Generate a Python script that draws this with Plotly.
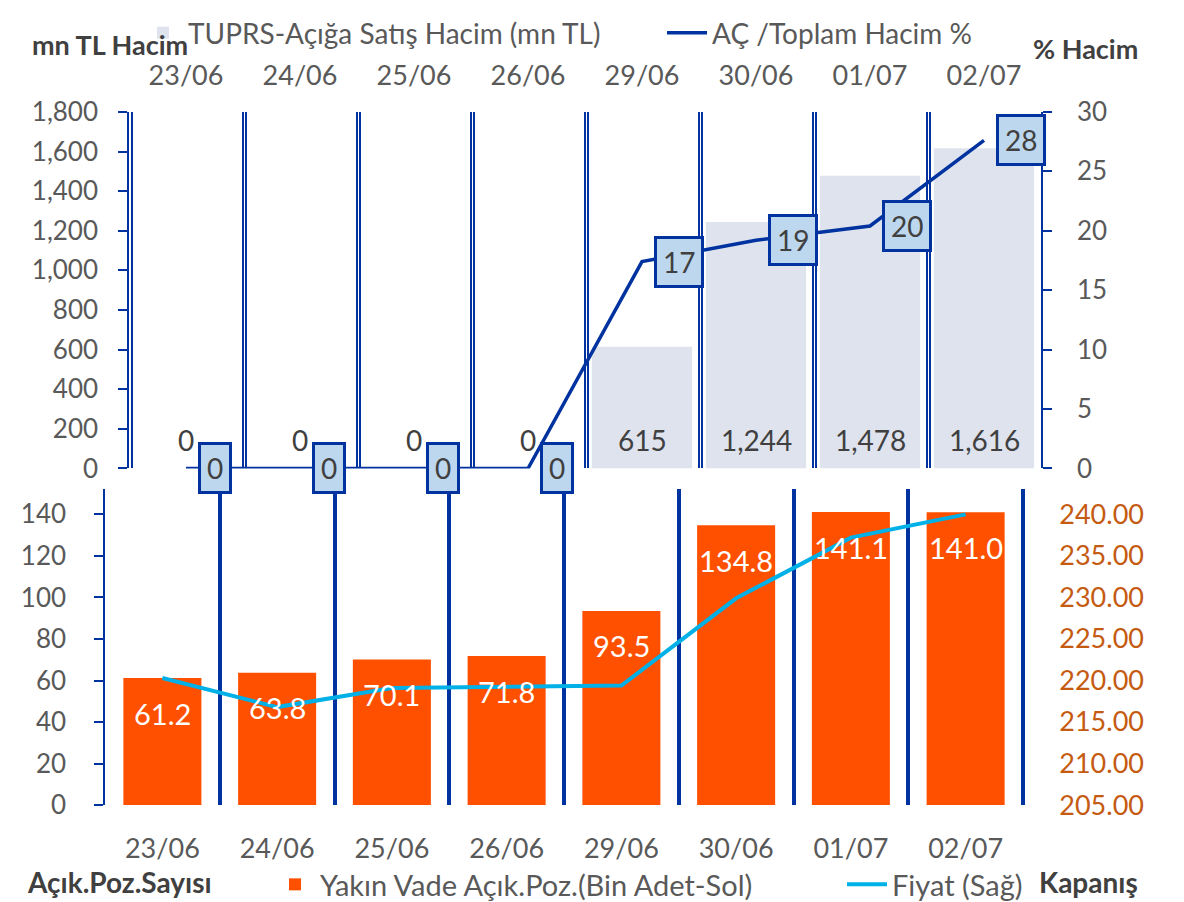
import plotly.graph_objects as go

# ---------------- data ----------------
dates = ["23/06", "24/06", "25/06", "26/06", "29/06", "30/06", "01/07", "02/07"]
short_volume = [0, 0, 0, 0, 615, 1244, 1478, 1616]          # mn TL
short_pct = [0, 0, 0, 0, 17.4, 19.2, 20.4, 27.6]             # AÇ / Toplam Hacim %
open_pos = [61.2, 63.8, 70.1, 71.8, 93.5, 134.8, 141.1, 141.0]  # Bin adet
price = [220.3, 216.8, 219.1, 219.2, 219.4, 229.9, 237.2, 240.0]

FONT = "Lato"
GRAY = "#595959"
DARK = "#404040"
BLUE = "#0033A0"
W, H = 1184, 902
OFF = 8  # default page body margin


def px_x(p):
    return (p - OFF) / W


def px_y(p):
    return 1 - (p - OFF) / H


fig = go.Figure()

# top chart: bars (left axis) + pct line (right axis)
fig.add_trace(go.Bar(
    x=dates, y=short_volume, xaxis="x", yaxis="y",
    name="TUPRS-Açığa Satış Hacim (mn TL)",
    marker=dict(color="#DEE3EE", line=dict(width=0)),
    width=0.88, legend="legend", hoverinfo="skip",
))
fig.add_trace(go.Scatter(
    x=dates, y=short_pct, xaxis="x", yaxis="y3",
    name="AÇ /Toplam Hacim %", mode="lines",
    line=dict(color=BLUE, width=3.5), legend="legend2", hoverinfo="skip",
))
# invisible helper trace for the second (double) gridline
fig.add_trace(go.Scatter(
    x=dates, y=[None] * len(dates), xaxis="x3", yaxis="y",
    showlegend=False, hoverinfo="skip",
))

# bottom chart
fig.add_trace(go.Bar(
    x=dates, y=open_pos, xaxis="x2", yaxis="y2",
    name="Yakın Vade Açık.Poz.(Bin Adet-Sol)",
    marker=dict(color="#FF5000", line=dict(width=0)),
    width=0.68, legend="legend3", hoverinfo="skip",
))
fig.add_trace(go.Scatter(
    x=dates, y=price, xaxis="x2", yaxis="y4",
    name="Fiyat (Sağ)", mode="lines",
    line=dict(color="#00B0E6", width=4), legend="legend4", hoverinfo="skip",
))

annotations = []
# bar value labels (top)
for d, v in zip(dates, short_volume):
    annotations.append(dict(
        x=d, y=0, xref="x", yref="y", text=f"{v:,.0f}", showarrow=False,
        yshift=28, yanchor="middle", font=dict(family=FONT, size=28, color=DARK),
    ))
# pct line labels (boxed)
for d, v in zip(dates, short_pct):
    annotations.append(dict(
        x=d, y=v, xref="x", yref="y3", text=f"{v:.0f}", showarrow=False,
        xanchor="left", xshift=12, yanchor="middle",
        bgcolor="#BDD7EE", bordercolor=BLUE, borderwidth=3, borderpad=6,
        font=dict(family=FONT, size=28, color=DARK),
    ))
# bottom bar labels
for d, v in zip(dates, open_pos):
    annotations.append(dict(
        x=d, y=v, xref="x2", yref="y2", text=f"{v:.1f}", showarrow=False,
        yshift=-35, yanchor="middle", font=dict(family=FONT, size=29, color="white"),
    ))
# titles
titles = [
    ("mn TL Hacim", 30, 45, "left", 27),
    ("% Hacim", 1140, 49, "right", 27),
    ("Açık.Poz.Sayısı", 25, 883, "left", 28),
    ("Kapanış", 1140, 883, "right", 28),
]
for t, xp, yp, anc, sz in titles:
    annotations.append(dict(
        x=px_x(xp), y=px_y(yp), xref="paper", yref="paper", text=f"<b>{t}</b>",
        showarrow=False, xanchor=anc, yanchor="middle",
        font=dict(family=FONT, size=sz, color=DARK),
    ))

tickfont = dict(family=FONT, size=26, color=GRAY)
catfont = dict(family=FONT, size=27, color=GRAY)

top_xdom = [px_x(129), px_x(1041)]
bot_xdom = [px_x(105), px_x(1025.3)]
top_ydom = [px_y(469), px_y(112)]
bot_ydom = [px_y(806), px_y(490)]


def leg(x_text_px, size, y_px=None, top=False):
    d = dict(
        orientation="h", x=px_x(x_text_px - 50), xanchor="left",
        font=dict(family=FONT, size=size, color=GRAY),
        bgcolor="rgba(0,0,0,0)", itemwidth=40,
    )
    if top:
        d.update(y=1, yanchor="top")
    else:
        d.update(y=px_y(y_px), yanchor="middle")
    return d


fig.update_layout(
    width=W, height=H,
    margin=dict(l=0, r=0, t=0, b=0),
    paper_bgcolor="white", plot_bgcolor="rgba(0,0,0,0)",
    font=dict(family=FONT, color=GRAY),
    barmode="overlay",
    annotations=annotations,
    showlegend=True,
    xaxis=dict(
        domain=top_xdom, anchor="y", side="top", type="category",
        range=[-0.5, 7.5], tickson="boundaries", ticks="",
        showgrid=True, gridcolor=BLUE, gridwidth=1.5, automargin=False,
        showline=False, zeroline=False, tickfont=catfont, ticklabelstandoff=20,
    ),
    xaxis3=dict(
        domain=top_xdom, anchor="y", overlaying="x", type="category",
        range=[-0.525, 7.475], tickson="boundaries", ticks="",
        showgrid=True, gridcolor=BLUE, gridwidth=1.5, automargin=False,
        showticklabels=False, showline=False, zeroline=False,
    ),
    yaxis=dict(
        domain=top_ydom, anchor="x", range=[0, 1800], dtick=200, tickformat=",",
        showgrid=False, zeroline=False, showline=True, linecolor=BLUE, linewidth=1.5,
        ticks="outside", ticklen=9, tickcolor=BLUE, tickwidth=1.5, automargin=False,
        tickfont=tickfont, ticklabelstandoff=15,
    ),
    yaxis3=dict(
        anchor="x", overlaying="y", side="right", range=[0, 30], dtick=5,
        showgrid=False, zeroline=False, showline=True, linecolor=BLUE, linewidth=1.5,
        ticks="outside", ticklen=9, tickcolor=BLUE, tickwidth=1.5, automargin=False,
        tickfont=tickfont, ticklabelstandoff=20,
    ),
    xaxis2=dict(
        domain=bot_xdom, anchor="y2", type="category", range=[-0.5, 7.52],
        tickson="boundaries", ticks="", automargin=False,
        showgrid=True, gridcolor=BLUE, gridwidth=4,
        showline=False, zeroline=False, tickfont=catfont, ticklabelstandoff=25,
    ),
    yaxis2=dict(
        domain=bot_ydom, anchor="x2", range=[0, 152], dtick=20,
        showgrid=False, zeroline=False, showline=True, linecolor=BLUE, linewidth=1.5,
        ticks="outside", ticklen=9, tickcolor=BLUE, tickwidth=1.5, automargin=False,
        tickfont=tickfont, ticklabelstandoff=23,
    ),
    yaxis4=dict(
        anchor="x2", overlaying="y2", side="right", range=[205, 243], dtick=5,
        tickformat=".2f", showgrid=False, zeroline=False, showline=False, ticks="",
        automargin=False,
        tickfont=dict(family=FONT, size=27, color="#C55A11"), ticklabelstandoff=33,
    ),
    legend=leg(188, 28, top=True),
    legend2=leg(712, 28, top=True),
    legend3=leg(320, 29, 885),
    legend4=leg(892, 29, 885),
)

fig.write_html("out.html")
